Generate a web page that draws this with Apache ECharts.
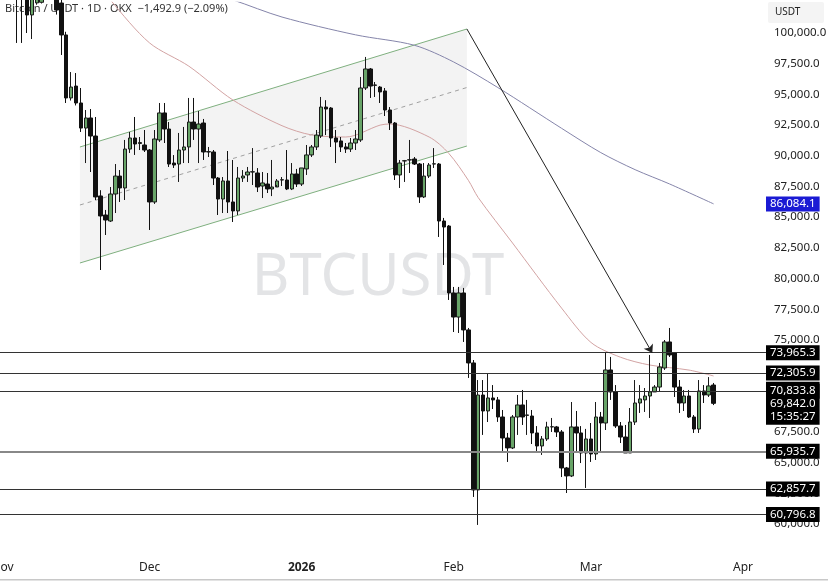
<!DOCTYPE html>
<html>
<head>
<meta charset="utf-8">
<script src="https://cdn.jsdelivr.net/npm/echarts@6/dist/echarts.min.js"></script>
<style>
  html, body { margin: 0; padding: 0; background: #fff; }
  #chart { width: 828px; height: 582px; }
</style>
</head>
<body>
<div id="chart"></div>
<script>
// one candle per day, index 0 = 1 Nov 2025, last index 145 = 26 Mar 2026
const opens = [
  109500, 110100, 110500, 106500, 104000, 103800, 101470, 102450, 102500, 104000,
  105500, 104000, 102440, 99840, 94710, 95680, 94300, 92260, 93080, 91610,
  86730, 85180, 84690, 86890, 88350, 87380, 90550, 91450, 91000, 90880,
  90470, 86240, 91290, 93490, 92180, 89410, 89330, 90470, 90720, 92750,
  92180, 92670, 90310, 90310, 88190, 86480, 87950, 86240, 85510, 88190,
  88440, 88680, 88600, 87540, 87700, 87300, 87460, 88030, 88030, 87300,
  88520, 87700, 88930, 90070, 90720, 91610, 93970, 93890, 91450, 91210,
  90720, 90550, 91040, 91290, 95520, 97070, 95770, 95600, 95280, 93730,
  92670, 88440, 89580, 89660, 89740, 89330, 86650, 88350, 89330, 89330,
  84690, 84280, 78830, 76870, 78830, 75820, 73130, 62790, 70520, 69220,
  70280, 70120, 68730, 67020, 66210, 68730, 69710, 68860, 68810, 67430,
  66370, 66940, 67920, 67920, 67510, 64580, 63930, 67920, 67430, 65800,
  66940, 65720, 68730, 68240, 72560, 70770, 68000, 67100, 65800, 68320,
  69870, 70120, 70440, 70770, 71170, 72720, 74840, 73940, 71170, 69870,
  70440, 68730, 67750, 70850, 70520, 71335
];
const closes = [
  110100, 110500, 106500, 104000, 103800, 101470, 103000, 103500, 104000, 105500,
  104000, 101870, 99840, 94710, 95600, 94300, 92260, 93080, 91610, 86650,
  85100, 84770, 86890, 88350, 87380, 90550, 91450, 90960, 91080, 90470,
  86240, 91370, 93490, 92180, 89330, 89250, 90470, 90720, 92750, 92180,
  92590, 90310, 90340, 88190, 86480, 87950, 86240, 85510, 88190, 88350,
  88680, 88700, 87460, 87790, 87300, 87460, 87950, 88050, 87300, 88520,
  87700, 89010, 90070, 90720, 91690, 93970, 93810, 91450, 91120, 90720,
  90550, 91040, 91370, 95520, 97070, 95680, 95740, 95200, 93730, 92670,
  88440, 89410, 89600, 89680, 89330, 86650, 88350, 89250, 89350, 84690,
  84200, 78830, 76870, 78830, 75820, 73130, 62790, 70520, 69220, 70280,
  70120, 68730, 67020, 66210, 68730, 69710, 68730, 68900, 67430, 66370,
  66940, 67920, 67940, 67510, 64580, 63930, 67920, 67430, 65800, 66940,
  65720, 68730, 68240, 72560, 70770, 68000, 67100, 65800, 68320, 69870,
  70200, 70440, 70770, 71170, 72800, 74840, 73780, 71170, 69870, 70440,
  68730, 67750, 70850, 70520, 71260, 69842
];
const lows = [
  109000, 109600, 105500, 99190, 99190, 100000, 99510, 102300, 102400, 103500,
  103000, 101500, 98210, 94300, 94500, 94100, 91940, 89410, 88680, 86400,
  80700, 83550, 84610, 85340, 86240, 86400, 90230, 90070, 90470, 90310,
  83960, 86080, 91130, 91040, 89090, 89010, 87870, 89410, 89410, 91290,
  89410, 89660, 89900, 87620, 85180, 85340, 85340, 84610, 85180, 87870,
  87870, 87620, 87050, 86560, 86970, 86720, 87630, 87540, 87210, 87210,
  87460, 87540, 88440, 89900, 90470, 91450, 91690, 90720, 89410, 90310,
  90230, 90310, 90470, 91130, 95360, 94710, 94790, 94300, 93240, 92100,
  88030, 87380, 87870, 88600, 89250, 86160, 86560, 88190, 89010, 83390,
  81110, 78260, 75650, 75570, 74840, 71910, 62220, 59940, 67270, 68320,
  69380, 68330, 65800, 65070, 66120, 67270, 68080, 67270, 66530, 65880,
  65640, 66780, 67510, 67100, 63840, 62540, 63840, 65800, 64980, 62950,
  65070, 65230, 65800, 67670, 70120, 67840, 66610, 65800, 65800, 68080,
  69060, 69140, 68650, 70770, 70770, 72560, 73620, 70360, 69060, 69220,
  68650, 67430, 67430, 69870, 70360, 69700
];
const highs = [
  111000, 111200, 110800, 107000, 104500, 104000, 104000, 104000, 104300, 106000,
  106000, 104500, 102800, 100100, 96820, 96740, 95520, 93730, 93810, 93160,
  87200, 85590, 87460, 89330, 88840, 91290, 91940, 93160, 91530, 92100,
  90550, 92100, 94300, 94300, 92750, 90060, 91860, 92350, 94710, 94710,
  93650, 93000, 90720, 90470, 88270, 88270, 90390, 89660, 89090, 88840,
  89090, 90630, 89000, 88680, 88600, 89660, 88110, 88270, 90470, 89410,
  88930, 89010, 90880, 90880, 92100, 94790, 94530, 93970, 92100, 91530,
  91040, 91450, 92100, 96420, 98050, 97150, 96010, 95680, 95520, 93970,
  92750, 89660, 89660, 91290, 89900, 89410, 89410, 89410, 90630, 89410,
  84940, 84360, 79320, 79320, 79240, 75980, 73370, 71740, 71740, 72310,
  71330, 70360, 69300, 67430, 68890, 70520, 70930, 70120, 69300, 67990,
  67180, 68340, 68650, 68000, 67670, 64660, 69950, 69220, 67990, 67760,
  68240, 69950, 69140, 74020, 73620, 71330, 68320, 68080, 69460, 71740,
  71330, 71090, 73780, 71330, 73130, 75000, 75980, 74020, 71740, 70930,
  70930, 68890, 71740, 71330, 71980, 71500
];

// moving averages (day index, price)
const maSlowDays = [40, 47, 57, 72, 84, 92, 101, 114, 122, 129, 136, 145];
const maSlowVals = [103500, 102690, 101300, 99850, 99000, 97640, 95560, 92240, 90260, 88870, 87710, 86084.1];
const maFastDays = [18, 22, 30, 38, 47, 57, 63, 70, 77, 79, 87, 91, 95, 97, 104, 114, 120, 126, 132, 140, 145];
const maFastVals = [104900, 102700, 99190, 97300, 94540, 92450, 91700, 91530, 92500, 92590, 91530, 90200, 88000, 86600, 82900, 77600, 74800, 73600, 72960, 72550, 72070];

// horizontal levels and drawings
const levels = [73965.3, 72305.9, 70833.8, 65935.7, 62857.7, 60796.8];
const channelDays = [15.8, 94.7];
const channelUpper = [90717, 100326];
const channelLower = [81271, 90798];
const arrowStart = [94.7, 100326];
const arrowEnd = [132.5, 73942];

const lastPrice = 69842.0;
const countdown = '15:35:27';

const monthDays = [0, 30, 61, 92, 120, 151];
const monthNames = ['Nov', 'Dec', '2026', 'Feb', 'Mar', 'Apr'];

const X_MIN = -0.5, X_MAX = 156.5;
const fmt = v => v.toLocaleString('en-US', { minimumFractionDigits: 1, maximumFractionDigits: 1 });
const FONT = '"Noto Sans", sans-serif';
const HIDDEN = 'rgba(0,0,0,0)';

const candles = opens.map((o, i) => [i, o, closes[i], lows[i], highs[i]]);

const tagLabel = (bg) => ({
  show: true,
  position: 'end',
  distance: -4,
  formatter: p => fmt(p.value),
  backgroundColor: bg,
  color: '#fff',
  fontFamily: FONT,
  fontSize: 11.5,
  padding: [2, 4, 1, 4]
});

const hLine = (v, style) => [
  { coord: [X_MIN, v], value: v, lineStyle: style },
  { coord: [X_MAX, v] }
];

const chart = echarts.init(document.getElementById('chart'));
chart.setOption({
  animation: false,
  backgroundColor: '#fff',
  grid: { left: 0, right: 58, top: 2.3, bottom: 27.1, outerBoundsMode: 'none', containLabel: false },
  xAxis: {
    type: 'value',
    min: X_MIN,
    max: X_MAX,
    splitLine: { show: false },
    axisLine: { show: false },
    axisTick: { show: false },
    axisLabel: {
      customValues: monthDays,
      formatter: v => {
        const k = monthDays.indexOf(Math.round(v));
        if (k < 0) return '';
        return monthNames[k] === '2026' ? '{b|2026}' : monthNames[k];
      },
      color: '#222',
      fontFamily: FONT,
      fontSize: 12,
      margin: 7,
      hideOverlap: false,
      rich: { b: { fontWeight: 'bold', color: '#222', fontFamily: FONT, fontSize: 12 } }
    }
  },
  yAxis: {
    type: 'value',
    position: 'right',
    min: 57500,
    max: 102500,
    interval: 2500,
    splitLine: { show: false },
    axisLine: { show: false },
    axisTick: { show: false },
    axisLabel: {
      formatter: v => (v < 60000 || v > 100000) ? '' : fmt(v),
      color: '#222',
      fontFamily: FONT,
      fontSize: 11.5,
      margin: 4
    }
  },
  graphic: [
    {
      type: 'text', z: -5, x: 378, y: 278,
      style: { text: 'BTCUSDT', font: 'normal 58px ' + FONT, fill: '#e3e4e6', align: 'center', verticalAlign: 'middle' }
    },
    {
      type: 'text', z: -5, x: 5, y: 9,
      style: { text: 'Bitcoin / USDT · 1D · OKX  −1,492.9 (−2.09%)', font: 'normal 11px ' + FONT, fill: '#333', verticalAlign: 'middle' }
    },
    {
      type: 'rect', z: 5, shape: { x: 768, y: 2, width: 56, height: 21, r: 2 },
      style: { fill: '#f4f4f4' }
    },
    {
      type: 'text', z: 6, x: 775, y: 12.5,
      style: { text: 'USDT', font: 'normal 10px ' + FONT, fill: '#222', verticalAlign: 'middle' }
    },
    {
      type: 'rect', z: 5, shape: { x: 0, y: 579, width: 828, height: 1.5 },
      style: { fill: '#c8c8c8' }
    }
  ],
  series: [
    {
      type: 'custom',
      name: 'channel',
      z: 1,
      clip: true,
      encode: { x: [0, 3], y: [1, 2, 4, 5] },
      data: [[channelDays[0], channelUpper[0], channelLower[0], channelDays[1], channelUpper[1], channelLower[1]]],
      renderItem: (params, api) => {
        const u0 = api.coord([api.value(0), api.value(1)]);
        const l0 = api.coord([api.value(0), api.value(2)]);
        const u1 = api.coord([api.value(3), api.value(4)]);
        const l1 = api.coord([api.value(3), api.value(5)]);
        const m0 = [(u0[0] + l0[0]) / 2, (u0[1] + l0[1]) / 2];
        const m1 = [(u1[0] + l1[0]) / 2, (u1[1] + l1[1]) / 2];
        return {
          type: 'group',
          children: [
            { type: 'polygon', shape: { points: [u0, u1, l1, l0] }, style: { fill: 'rgba(200,200,200,0.22)' } },
            { type: 'line', shape: { x1: u0[0], y1: u0[1], x2: u1[0], y2: u1[1] }, style: { stroke: '#7fb07f', lineWidth: 1 } },
            { type: 'line', shape: { x1: l0[0], y1: l0[1], x2: l1[0], y2: l1[1] }, style: { stroke: '#7fb07f', lineWidth: 1 } },
            { type: 'line', shape: { x1: m0[0], y1: m0[1], x2: m1[0], y2: m1[1] }, style: { stroke: '#a0a0a0', lineWidth: 1, lineDash: [4, 4] } }
          ]
        };
      }
    },
    {
      type: 'line',
      name: 'MA slow',
      z: 3,
      smooth: 0.3,
      symbol: 'none',
      data: maSlowDays.map((d, i) => [d, maSlowVals[i]]),
      lineStyle: { color: '#8585aa', width: 1 },
      markLine: {
        silent: true,
        symbol: 'none',
        label: tagLabel('#1a1ad4'),
        data: [hLine(maSlowVals[maSlowVals.length - 1], { color: HIDDEN, width: 0 })]
      }
    },
    {
      type: 'line',
      name: 'MA fast',
      z: 3,
      smooth: 0.3,
      symbol: 'none',
      data: maFastDays.map((d, i) => [d, maFastVals[i]]),
      lineStyle: { color: '#d2a3a3', width: 1 }
    },
    {
      type: 'line',
      name: 'last',
      z: 3.5,
      data: [],
      markLine: {
        silent: true,
        symbol: 'none',
        label: Object.assign(tagLabel('#000'), {
          // first line left blank: the 70,833.8 tag sits on top of it
          formatter: () => ' \n' + fmt(lastPrice) + '\n' + countdown,
          lineHeight: 13,
          padding: [2, 4, 2, 4]
        }),
        data: [hLine(lastPrice, { color: HIDDEN, width: 0 })]
      }
    },
    {
      type: 'line',
      name: 'levels',
      z: 4,
      data: [],
      markLine: {
        silent: true,
        symbol: 'none',
        label: tagLabel('#000'),
        data: levels.map(v => hLine(v, v === 65935.7
          ? { color: '#888', width: 2, type: 'solid' }
          : { color: '#333', width: 1, type: 'solid' }))
      }
    },
    {
      type: 'line',
      name: 'arrow',
      z: 5,
      data: [],
      markLine: {
        silent: true,
        symbol: ['none', 'arrow'],
        symbolSize: 8,
        label: { show: false },
        lineStyle: { color: '#222', width: 1, type: 'solid' },
        data: [[{ coord: arrowStart }, { coord: arrowEnd }]]
      }
    },
    {
      type: 'candlestick',
      name: 'BTCUSDT',
      z: 4,
      barWidth: 4,
      encode: { x: 0, y: [1, 2, 3, 4] },
      data: candles,
      itemStyle: {
        color: '#68a468',
        color0: '#111',
        borderColor: '#1a1a1a',
        borderColor0: '#111',
        borderWidth: 1
      }
    }
  ]
});
</script>
</body>
</html>
